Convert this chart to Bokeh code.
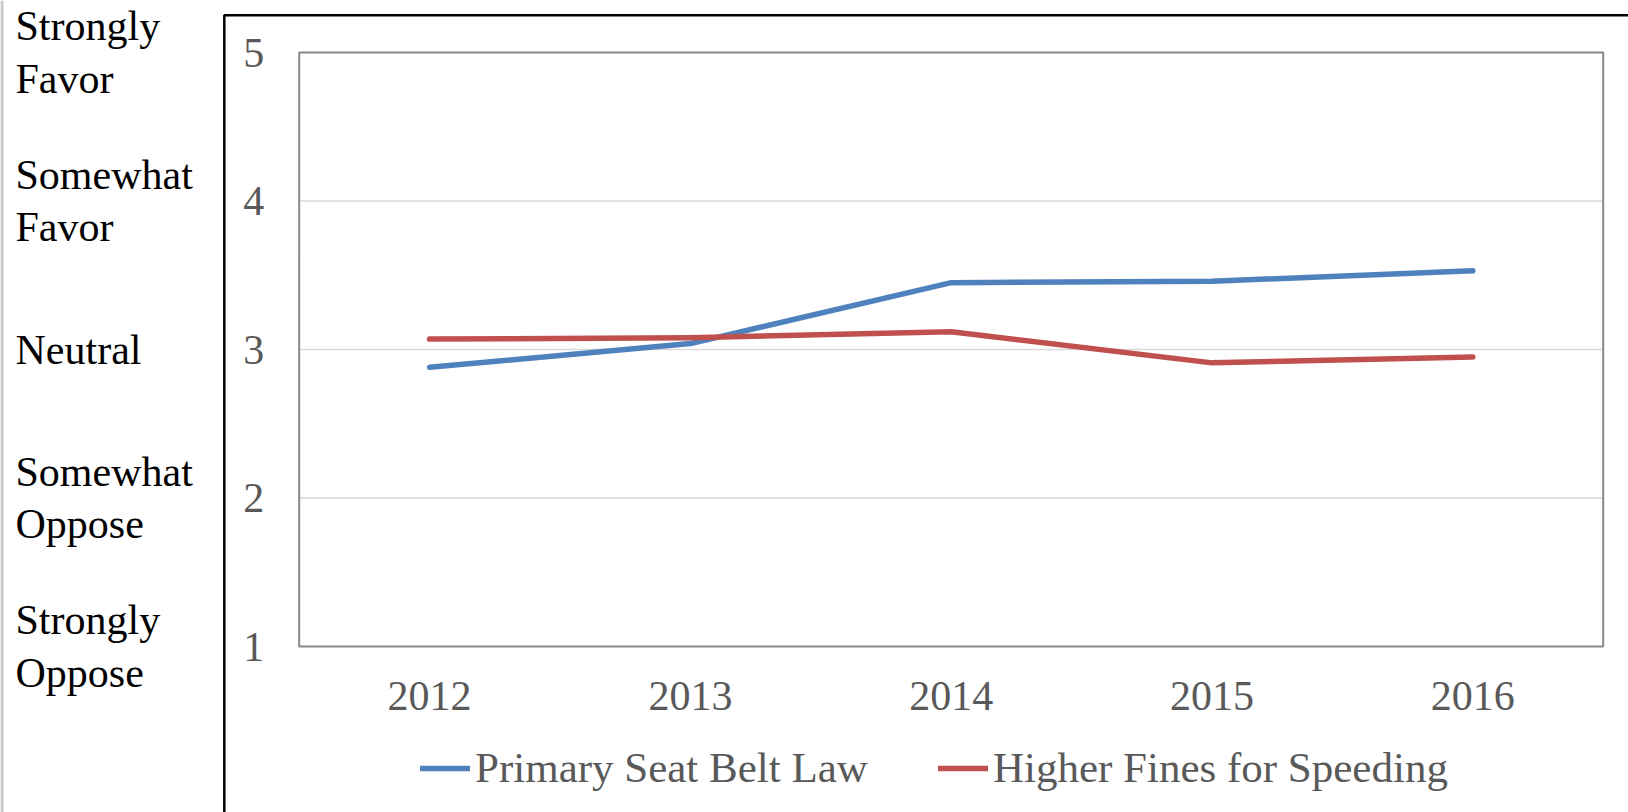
from bokeh.plotting import figure
from bokeh.models import (Legend, LegendItem, Label, BoxAnnotation, Range1d,
                          FixedTicker, Span)
from bokeh.embed import file_html
from bokeh.resources import INLINE

years = ["2012", "2013", "2014", "2015", "2016"]
seat_belt = [2.88, 3.04, 3.45, 3.46, 3.53]
higher_fines = [3.07, 3.08, 3.12, 2.91, 2.95]
y_ticks = [1, 2, 3, 4, 5]
scale_values = [5, 4, 3, 2, 1]
scale_labels = ["Strongly\nFavor", "Somewhat\nFavor", "Neutral", "Somewhat\nOppose", "Strongly\nOppose"]
series_names = ["Primary Seat Belt Law", "Higher Fines for Speeding"]
colors = ["#4F81BD", "#C0504D"]

FONT = "Liberation Serif"
FS = "42px"
W, H = 1628, 812

# category centres on a numeric axis: 0.5, 1.5, ...
x_pos = [i + 0.5 for i in range(len(years))]
n = len(years)
y_lo, y_hi = min(y_ticks), max(y_ticks)

p = figure(x_range=Range1d(-1.1453, 5.0970), y_range=Range1d(-0.1178, 5.3502),
           width=W, height=H, output_backend="svg", toolbar_location=None,
           min_border_left=0, min_border_right=0, min_border_top=0, min_border_bottom=0)

p.outline_line_color = None
p.xgrid.grid_line_color = None
p.ygrid.grid_line_color = None

# plot-area gridlines and border
inner = y_ticks[1:-1]
p.segment(x0=[0] * len(inner), x1=[n] * len(inner), y0=inner, y1=inner,
          line_color="#D9D9D9", line_width=1.5)
p.quad(left=0, right=n, bottom=y_lo, top=y_hi, fill_color=None,
       line_color="#888888", line_width=2)

p.yaxis.ticker = y_ticks
p.yaxis.fixed_location = 0
p.xaxis.ticker = FixedTicker(ticks=x_pos)
p.xaxis.major_label_overrides = {x: y for x, y in zip(x_pos, years)}
p.xaxis.fixed_location = y_lo
for ax in (p.xaxis[0], p.yaxis[0]):
    ax.axis_line_color = None
    ax.major_tick_line_color = None
    ax.minor_tick_line_color = None
    ax.major_tick_out = 0
    ax.major_tick_in = 0
    ax.major_label_text_font = FONT
    ax.major_label_text_font_size = FS
    ax.major_label_text_color = "#595959"
p.yaxis.major_label_standoff = 35
p.xaxis.major_label_standoff = 35

r1 = p.line(x_pos, seat_belt, line_color=colors[0], line_width=5.5, line_cap="round", line_join="round")
r2 = p.line(x_pos, higher_fines, line_color=colors[1], line_width=5.5, line_cap="round", line_join="round")

for v, t in zip(scale_values, scale_labels):
    p.add_layout(Label(x=15, x_units="screen", y=v, text=t, text_font=FONT,
                       text_font_size=FS, text_color="black", text_align="left",
                       text_baseline="middle", text_line_height=1.15))

# outer black frame and thin grey strip at the far left
box = BoxAnnotation(left=223.8, right=W + 50, top=H - 14.7, bottom=-50,
                    left_units="screen", right_units="screen",
                    top_units="screen", bottom_units="screen",
                    fill_alpha=0, fill_color=None, line_color="black",
                    line_alpha=1.0, line_width=2.5)
p.add_layout(box)
p.add_layout(Span(location=1.5, location_units="screen", dimension="height",
                  line_color="#C8C8C8", line_width=3))

legend = Legend(items=[LegendItem(label=series_names[0], renderers=[r1]),
                       LegendItem(label=series_names[1], renderers=[r2])],
                orientation="horizontal", location=(420, 20), padding=0, margin=0,
                glyph_width=50, glyph_height=42, label_standoff=5, spacing=70,
                label_text_font=FONT, label_text_font_size="43px", label_text_color="#595959",
                border_line_color=None, background_fill_alpha=0)
p.add_layout(legend)

open("out.html", "w").write(file_html(p, INLINE))
